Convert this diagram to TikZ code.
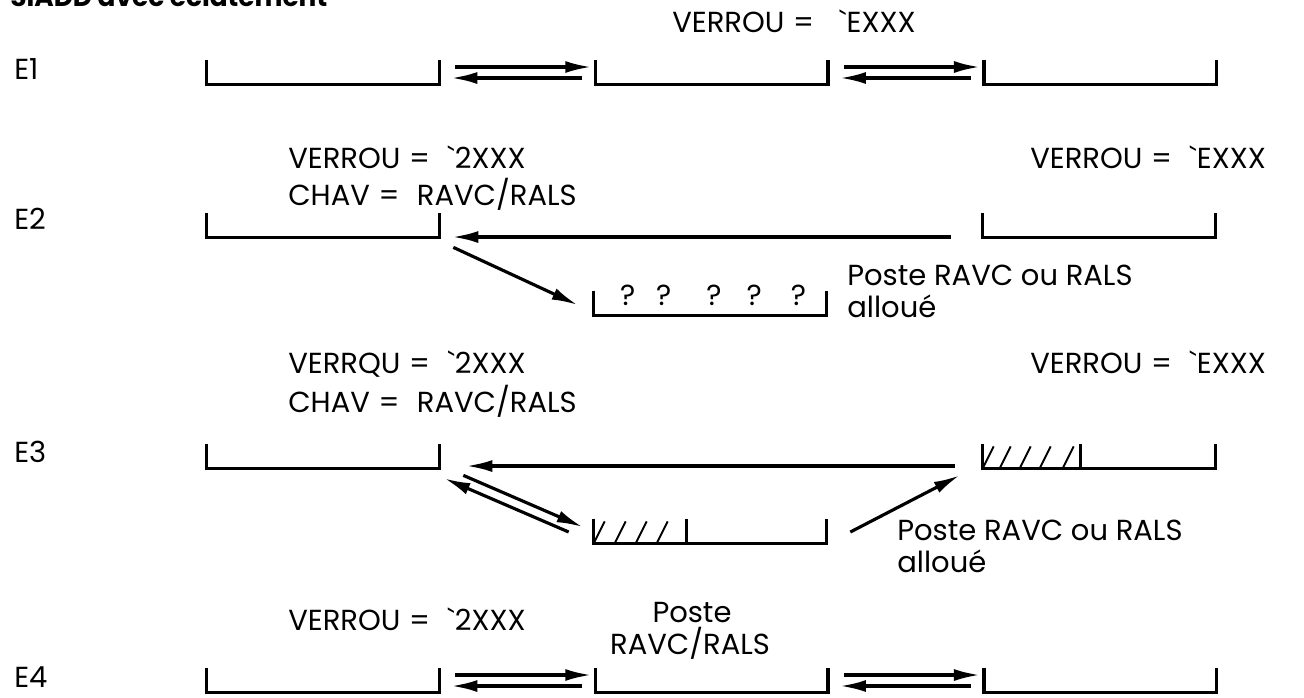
\documentclass[tikz,border=0pt]{standalone}
\usepackage{fontspec}
\setmainfont{Poppins}
\usetikzlibrary{arrows.meta, positioning, calc}
\newcommand{\eqs}{\hspace{.3em}=\hspace{.6em}}
\tikzset{
    lbl/.style={inner sep=0pt, anchor=base west},
    mid/.style={inner sep=0pt, anchor=base},
    slot/.style={rectangle, inner sep=0pt, minimum width=4.64cm, minimum height=0.48cm},
    rim/.style={line width=1.8pt},
    arrow/.style={-{Latex[length=0.52cm, width=0.24cm]}, line width=1.8pt},
    hatch/.style={line width=1.1pt}
}

\begin{document}
\begin{tikzpicture}[x=0.02cm, y=-0.02cm, node distance=3.12cm, font=\fontsize{16.5}{20}\selectfont]
    \useasboundingbox (0,0) rectangle (1304,697);

    \node [lbl, font=\fontsize{15}{18}\selectfont\bfseries] (title) at (10,6) {SIADD avec éclatement};

    % E1
    \node [lbl] (e1) at (14,79) {E1};
    \node [lbl] (v1) at (672,32) {VERROU\eqs\ \textasciigrave EXXX};
    \node [slot] (a1) at (323,72) {};
    \node [slot, right=of a1] (b1) {};
    \node [slot, right=of b1] (c1) {};

    % E2
    \node [lbl] (e2) at (14,229) {E2};
    \node [lbl] (v2) at (288,168) {VERROU\eqs\textasciigrave 2XXX};
    \node [lbl] (k2) at (288,205) {CHAV\eqs RAVC/RALS};
    \node [lbl] (w2) at (1030,168) {VERROU\eqs\textasciigrave EXXX};
    \node [slot] (a2) at (323,225) {};
    \node [slot] (b2) at (710,303) {};
    \node [slot] (c2) at (1099,225) {};
    \node [mid] (q2) at (713,305) {?\hspace{.42cm}?\hspace{.7cm}?\hspace{.5cm}?\hspace{.58cm}?};
    \node [lbl] (p2) at (847,285) {Poste RAVC ou RALS};
    \node [lbl] (l2) at (847,317) {alloué};

    \draw [arrow] ([shift={(-32,12)}]c2.west) -- ([shift={(13,12)}]a2.east);
    \draw [arrow] ([shift={(14,10)}]a2.south east) -- ([shift={(-16,2)}]b2.west);

    % E3
    \node [lbl] (e3) at (14,462) {E3};
    \node [lbl] (v3) at (288,373) {VERRQU\eqs\textasciigrave 2XXX};
    \node [lbl] (k3) at (288,412) {CHAV\eqs RAVC/RALS};
    \node [lbl] (w3) at (1030,373) {VERROU\eqs\textasciigrave EXXX};
    \node [slot] (a3) at (323,456) {};
    \node [slot] (b3) at (710,531) {};
    \node [slot] (c3) at (1099,456) {};
    \node [lbl] (p3) at (897,540) {Poste RAVC ou RALS};
    \node [lbl] (l3) at (897,572) {alloué};

    \draw [arrow] ([shift={(-28,10)}]c3.west) -- ([shift={(27,10)}]a3.east);
    \draw [arrow] ([shift={(24,7)}]a3.south east) -- ([shift={(-11,-4)}]b3.west);
    \draw [arrow] ([shift={(-25,1)}]b3.west) -- ([shift={(5,10)}]a3.south east);
    \draw [arrow] ([shift={(24,1)}]b3.east) -- ([shift={(-23,7)}]c3.south west);

    \foreach \d in {0,21,42,63}
        \draw [hatch] ([xshift=\d*0.02cm]b3.south west) -- ++(11,-22);
    \draw [rim] ($(b3.south west)!.4!(b3.south east)$) -- ($(b3.north west)!.4!(b3.north east)$);
    \foreach \d in {0,17,37,57,80}
        \draw [hatch] ([xshift=\d*0.02cm]c3.south west) -- ++(11,-22);
    \draw [rim] ($(c3.south west)!.42!(c3.south east)$) -- ($(c3.north west)!.42!(c3.north east)$);

    % E4
    \node [lbl] (e4) at (14,687) {E4};
    \node [lbl] (v4) at (288,630) {VERROU\eqs\textasciigrave 2XXX};
    \node [slot] (a4) at (323,680) {};
    \node [slot, right=of a4] (b4) {};
    \node [slot, right=of b4] (c4) {};
    \node [mid] (p4) at (692,622) {Poste};
    \node [mid] (r4) at (690,654) {RAVC/RALS};

    \foreach \l/\r in {a1/b1, b1/c1, a4/b4, b4/c4} {
        \draw [arrow] ([shift={(16,-5)}]\l.east) -- ([shift={(-4,-5)}]\r.west);
        \draw [arrow] ([shift={(-13,6)}]\r.west) -- ([shift={(12,6)}]\l.east);
    }

    \foreach \s in {a1,b1,c1,a2,b2,c2,a3,b3,c3,a4,b4,c4}
        \draw [rim] (\s.north west) |- (\s.south east) -- (\s.north east);
\end{tikzpicture}
\end{document}
